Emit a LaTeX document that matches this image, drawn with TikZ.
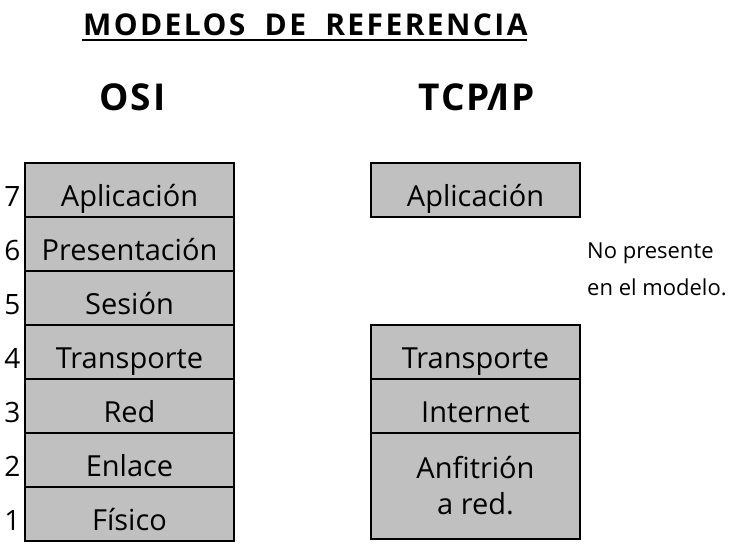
\documentclass[tikz,border=0pt]{standalone}
\usepackage{fontspec}
\setmainfont{Open Sans}
\newfontfamily\titlefont{Open Sans}[LetterSpace=8]
\newfontfamily\headfont{Open Sans}[LetterSpace=6]
\definecolor{silver}{RGB}{192,192,192}
\begin{document}
\begin{tikzpicture}[x=1pt,y=-1pt,
  layer/.style={draw=black, fill=silver, line width=2.6pt, inner sep=0pt,
    minimum width=209pt, minimum height=54pt},
  lbl/.style={anchor=base, inner sep=0pt, font=\fontsize{29}{34}\selectfont},
  num/.style={anchor=base, inner sep=0pt, font=\fontsize{28}{34}\selectfont},
  note/.style={anchor=base west, inner sep=0pt, font=\fontsize{22}{26}\selectfont}]
\useasboundingbox (0,0) rectangle (732,547);
% title
\node[anchor=base west, inner sep=0pt] (title) at (83,35)
  {\fontsize{30}{34}\selectfont\titlefont\bfseries MODELOS\hspace{9pt} DE\hspace{9pt} REFERENCIA};
\coordinate (ula) at (82,40);
\coordinate (ulb) at (527,40);
\draw[line width=2.6pt] (ula) -- (ulb);
\node[anchor=base west, inner sep=0pt] (osi) at (99,110)
  {\fontsize{37}{40}\selectfont\headfont\bfseries OSI};
\node[anchor=base west, inner sep=0pt] (tcp) at (418,110)
  {\fontsize{37}{40}\selectfont\headfont\bfseries TCP\kern-3pt/\kern-5pt IP};
% OSI column
\node[layer] (o7) at (129.5,190) {};
\node[layer] (o6) at (129.5,244) {};
\node[layer] (o5) at (129.5,298) {};
\node[layer] (o4) at (129.5,352) {};
\node[layer] (o3) at (129.5,406) {};
\node[layer] (o2) at (129.5,460) {};
\node[layer] (o1) at (129.5,514) {};
\node[lbl] (t7) at (129.5,206) {Aplicación};
\node[lbl] (t6) at (129.5,260) {Presentación};
\node[lbl] (t5) at (129.5,314) {Sesión};
\node[lbl] (t4) at (129.5,368) {Transporte};
\node[lbl] (t3) at (129.5,422) {Red};
\node[lbl] (t2) at (129.5,476) {Enlace};
\node[lbl] (t1) at (129.5,530) {Físico};
\node[num] (n7) at (12.5,206) {7};
\node[num] (n6) at (12.5,260) {6};
\node[num] (n5) at (12.5,314) {5};
\node[num] (n4) at (12.5,368) {4};
\node[num] (n3) at (12.5,422) {3};
\node[num] (n2) at (12.5,476) {2};
\node[num] (n1) at (12.5,530) {1};
% TCP/IP column
\node[layer] (p4) at (475.5,190) {};
\node[layer] (p3) at (475.5,352) {};
\node[layer] (p2) at (475.5,406) {};
\node[layer, minimum height=106pt] (p1) at (475.5,486) {};
\node[lbl] (s4) at (475.5,206) {Aplicación};
\node[lbl] (s3) at (475.5,368) {Transporte};
\node[lbl] (s2) at (475.5,422) {Internet};
\node[lbl] (s1a) at (475.5,478) {Anfitrión};
\node[lbl] (s1b) at (475.5,514) {a red.};
% note
\node[note] (na) at (587,258) {No presente};
\node[note] (nb) at (587,295) {en el modelo.};
\end{tikzpicture}
\end{document}
